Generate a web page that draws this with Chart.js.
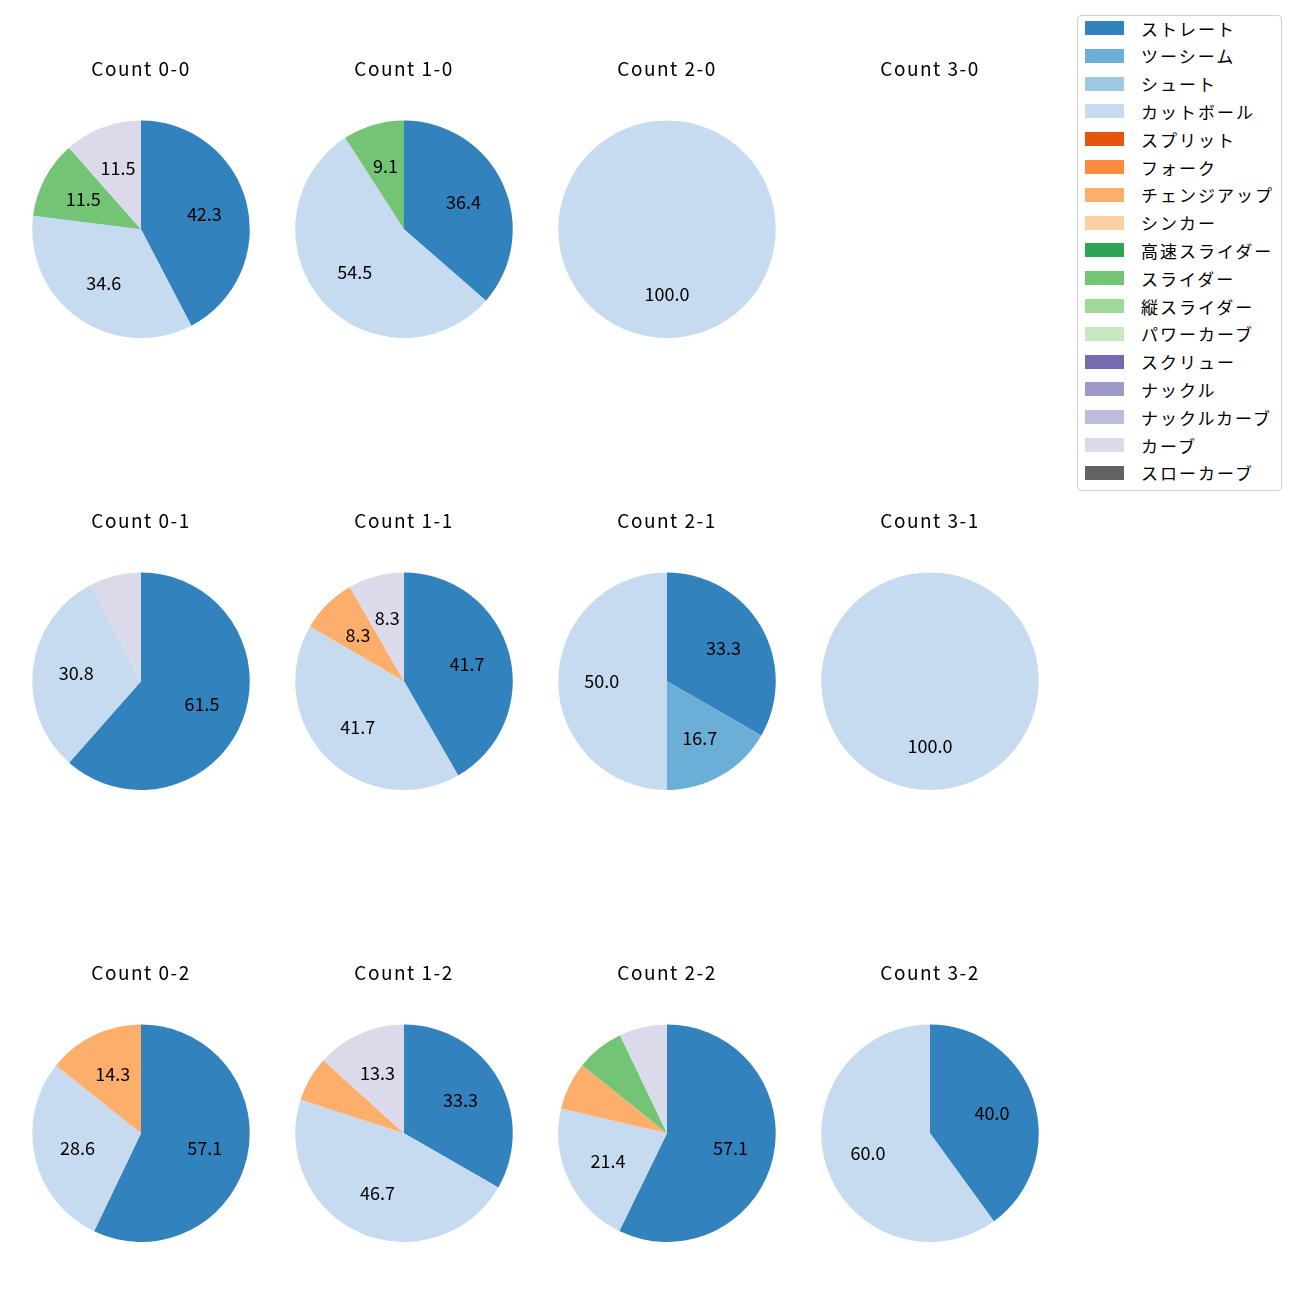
<!DOCTYPE html>
<html><head><meta charset="utf-8">
<script src="https://cdn.jsdelivr.net/npm/chart.js@4.4.1/dist/chart.umd.min.js"></script>
<style>
body{margin:0;background:#fff;width:1300px;height:1300px;position:relative;overflow:hidden;font-family:"Noto Sans CJK JP","Noto Sans",sans-serif;}
canvas.pie{position:absolute;}
#legend{position:absolute;left:1077px;top:15px;width:205px;height:476px;border:1px solid #d0d0d0;border-radius:4px;box-sizing:border-box;background:#fff;}
.li{position:absolute;left:7px;height:20px;display:flex;align-items:center;font-size:17px;letter-spacing:2px;color:#000;white-space:nowrap;}
.sw{width:39px;height:14px;margin-right:17px;}
</style></head><body>
<div id="legend"></div>
<script>
const pitchTypes = ["ストレート","ツーシーム","シュート","カットボール","スプリット","フォーク","チェンジアップ","シンカー","高速スライダー","スライダー","縦スライダー","パワーカーブ","スクリュー","ナックル","ナックルカーブ","カーブ","スローカーブ"];
const pitchColors = ["#3182bd","#6baed6","#9ecae1","#c6dbef","#e6550d","#fd8d3c","#fdae6b","#fdd0a2","#31a354","#74c476","#a1d99b","#c7e9c0","#756bb1","#9e9ac8","#bcbddc","#dadaeb","#636363"];
const countTitles = ["Count 0-0","Count 1-0","Count 2-0","Count 3-0","Count 0-1","Count 1-1","Count 2-1","Count 3-1","Count 0-2","Count 1-2","Count 2-2","Count 3-2"];
// percentages per pitch type (order of pitchTypes)
const count00 = [42.3,0,0,34.6,0,0,0,0,0,11.5,0,0,0,0,0,11.5,0];
const count10 = [36.4,0,0,54.5,0,0,0,0,0,9.1,0,0,0,0,0,0,0];
const count20 = [0,0,0,100.0,0,0,0,0,0,0,0,0,0,0,0,0,0];
const count30 = [];
const count01 = [61.5,0,0,30.8,0,0,0,0,0,0,0,0,0,0,0,7.7,0];
const count11 = [41.7,0,0,41.7,0,0,8.3,0,0,0,0,0,0,0,0,8.3,0];
const count21 = [33.3,16.7,0,50.0,0,0,0,0,0,0,0,0,0,0,0,0,0];
const count31 = [0,0,0,100.0,0,0,0,0,0,0,0,0,0,0,0,0,0];
const count02 = [57.1,0,0,28.6,0,0,14.3,0,0,0,0,0,0,0,0,0,0];
const count12 = [33.3,0,0,46.7,0,0,6.7,0,0,0,0,0,0,0,0,13.3,0];
const count22 = [57.1,0,0,21.4,0,0,7.1,0,0,7.1,0,0,0,0,0,7.1,0];
const count32 = [40.0,0,0,60.0,0,0,0,0,0,0,0,0,0,0,0,0,0];
const allCounts = [count00,count10,count20,count30,count01,count11,count21,count31,count02,count12,count22,count32];
const labelThreshold = 8;

const FONT = '"Noto Sans CJK JP","Noto Sans",sans-serif';

const spacing = {
  id:'spacing',
  beforeDraw(chart){ chart.ctx.letterSpacing = '1.5px'; },
  beforeDatasetsDraw(chart){ chart.ctx.letterSpacing = '0px'; }
};

const pctLabels = {
  id:'pctLabels',
  afterDatasetsDraw(chart){
    const ctx = chart.ctx;
    const meta = chart.getDatasetMeta(0);
    if(!meta || !meta.data) return;
    const data = chart.data.datasets[0].data;
    const total = data.reduce((a,b)=>a+b,0);
    ctx.save();
    ctx.letterSpacing = '0px';
    ctx.font = '18px ' + FONT;
    ctx.fillStyle = '#000';
    ctx.textAlign = 'center';
    ctx.textBaseline = 'middle';
    meta.data.forEach((arc,i)=>{
      const v = data[i];
      if(!v) return;
      const p = v/total*100;
      if(p < labelThreshold) return;
      const mid = (arc.startAngle + arc.endAngle)/2;
      const r = arc.outerRadius*0.6;
      ctx.fillText(v.toFixed(1), arc.x + Math.cos(mid)*r, arc.y + Math.sin(mid)*r);
    });
    ctx.restore();
  }
};

const colX = [141,404,667,930];
const rowTop = [40,492,944];
const W = 250, H = 298;

allCounts.forEach((vals,k)=>{
  const c = document.createElement('canvas');
  c.className='pie';
  c.width=W; c.height=H;
  c.style.width=W+'px'; c.style.height=H+'px';
  const col = k%4, row = Math.floor(k/4);
  c.style.left=(colX[col]-W/2)+'px';
  c.style.top=rowTop[row]+'px';
  document.body.appendChild(c);
  new Chart(c,{
    type:'pie',
    data:{labels:vals.length?pitchTypes:[],datasets:[{data:vals,backgroundColor:pitchColors,borderWidth:0}]},
    options:{
      responsive:false,animation:false,maintainAspectRatio:false,
      layout:{padding:0},
      plugins:{
        legend:{display:false},
        tooltip:{enabled:false},
        title:{display:true,text:countTitles[k],color:'#000',font:{family:FONT,size:19,weight:'normal',lineHeight:1.2},padding:{top:17.6,bottom:40.1}}
      }
    },
    plugins:[spacing,pctLabels]
  });
});

const lg = document.getElementById('legend');
pitchTypes.forEach((t,i)=>{
  const d = document.createElement('div');
  d.className='li';
  d.style.top=(2+i*27.8)+'px';
  d.innerHTML='<span class="sw" style="background:'+pitchColors[i]+'"></span><span>'+t+'</span>';
  lg.appendChild(d);
});
</script>
</body></html>
